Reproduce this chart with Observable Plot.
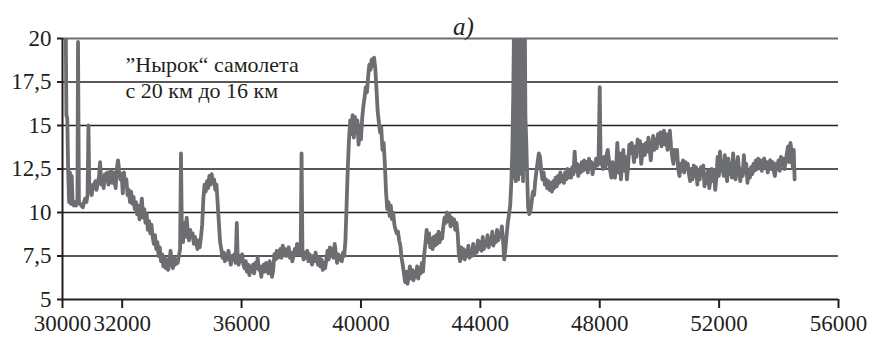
<!DOCTYPE html>
<html>
<head>
<meta charset="utf-8">
<script src="https://cdn.jsdelivr.net/npm/d3@7"></script>
<script src="https://cdn.jsdelivr.net/npm/@observablehq/plot@0.6"></script>
<style>
  html, body { margin: 0; padding: 0; background: #fff; }
  #chart { width: 878px; height: 341px; }
</style>
</head>
<body>
<div id="chart"></div>
<script>
// ---- data ----
const xTicks = [30000, 32000, 36000, 40000, 44000, 48000, 52000, 56000];
const yTicks = [5, 7.5, 10, 12.5, 15, 17.5, 20];
const title = "a)";
const annotation = "\u201DНырок\u201C самолета\nс 20 км до 16 км";

const xs = [
30080,30110,30130,30160,30190,30220,30250,30280,30310,30340,30380,30420,30460,30500,30520,30550,30590,30630,30680,30720,
30760,30800,30840,30870,30900,30940,30980,31020,31060,31100,31140,31180,31220,31260,31300,31340,31380,31420,31460,31500,
31540,31580,31620,31660,31700,31740,31780,31820,31860,31900,31940,31980,32020,32060,32100,32140,32180,32220,32260,32300,
32340,32380,32420,32460,32500,32540,32580,32620,32660,32700,32740,32780,32820,32860,32900,32940,32980,33020,33060,33100,
33140,33180,33220,33260,33300,33340,33380,33420,33460,33500,33540,33580,33620,33660,33700,33740,33780,33820,33860,33900,
33940,33970,34000,34040,34080,34120,34160,34200,34240,34280,34320,34360,34400,34440,34480,34520,34560,34600,34640,34680,
34720,34760,34800,34840,34880,34920,34960,35000,35040,35080,35120,35160,35200,35240,35280,35320,35360,35400,35440,35480,
35520,35560,35600,35640,35680,35720,35760,35800,35840,35870,35900,35940,35980,36020,36060,36100,36140,36180,36220,36260,
36300,36340,36380,36420,36460,36500,36540,36580,36620,36660,36700,36740,36780,36820,36860,36900,36940,36980,37020,37060,
37100,37140,37180,37220,37260,37300,37340,37380,37420,37460,37500,37540,37580,37620,37660,37700,37740,37780,37820,37860,
37900,37940,37980,38010,38040,38080,38120,38160,38200,38240,38280,38320,38360,38400,38440,38480,38520,38560,38600,38640,
38680,38720,38760,38800,38840,38880,38920,38960,39000,39040,39080,39120,39160,39200,39240,39280,39320,39360,39400,39440,
39480,39520,39560,39600,39640,39680,39720,39760,39800,39840,39880,39920,39960,40000,40040,40080,40120,40160,40200,40240,
40280,40320,40360,40400,40440,40480,40520,40560,40600,40640,40680,40720,40760,40800,40840,40880,40920,40960,41000,41040,
41080,41120,41160,41200,41240,41280,41320,41360,41400,41440,41480,41520,41560,41600,41640,41680,41720,41760,41800,41840,
41880,41920,41960,42000,42040,42080,42120,42160,42200,42240,42280,42320,42360,42400,42440,42480,42520,42560,42600,42640,
42680,42720,42760,42800,42840,42880,42920,42960,43000,43040,43080,43120,43160,43200,43240,43280,43320,43360,43400,43440,
43480,43520,43560,43600,43640,43680,43720,43760,43800,43840,43880,43920,43960,44000,44040,44080,44120,44160,44200,44240,
44280,44320,44360,44400,44440,44480,44520,44560,44600,44640,44680,44720,44760,44800,44840,44880,44920,44960,45000,45040,
45070,45100,45130,45150,45170,45190,45210,45230,45250,45270,45290,45310,45330,45350,45370,45390,45410,45430,45450,45470,
45490,45510,45540,45570,45600,45640,45680,45720,45760,45800,45840,45880,45920,45960,46000,46040,46080,46120,46160,46200,
46240,46280,46320,46360,46400,46440,46480,46520,46560,46600,46640,46680,46720,46760,46800,46840,46880,46920,46960,47000,
47040,47080,47120,47160,47200,47240,47280,47320,47360,47400,47440,47480,47520,47560,47600,47640,47680,47720,47760,47800,
47840,47880,47920,47960,48000,48030,48070,48110,48150,48190,48230,48270,48310,48350,48390,48430,48470,48510,48550,48590,
48630,48670,48710,48750,48790,48830,48870,48910,48950,48990,49030,49070,49110,49150,49190,49230,49270,49310,49350,49390,
49430,49470,49510,49550,49590,49630,49670,49710,49750,49790,49830,49870,49910,49950,49990,50030,50070,50110,50150,50190,
50230,50270,50310,50350,50390,50430,50470,50510,50550,50590,50630,50670,50710,50750,50790,50830,50870,50910,50950,50990,
51030,51070,51110,51150,51190,51230,51270,51310,51350,51390,51430,51470,51510,51550,51590,51630,51670,51710,51750,51790,
51830,51870,51910,51950,51990,52030,52070,52110,52150,52190,52230,52270,52310,52350,52390,52430,52470,52510,52550,52590,
52630,52670,52710,52750,52790,52830,52870,52910,52950,52990,53030,53070,53110,53150,53190,53230,53270,53310,53350,53390,
53430,53470,53510,53550,53590,53630,53670,53710,53750,53790,53830,53870,53910,53950,53990,54030,54070,54110,54150,54190,
54230,54270,54310,54350,54390,54430,54470,54500,54530
];

const ys = [
21,20.5,15.6,15.4,12.4,10.6,12.3,10.5,12.1,10.5,10.4,10.6,10.4,10.6,19.8,10.6,10.5,10.4,10.3,10.6,
10.8,10.6,11.0,15.0,11.2,11.4,11.0,11.6,11.5,11.8,11.3,11.7,12.0,12.9,11.6,12.0,11.4,12.2,11.8,12.3,
11.6,12.1,12.4,11.7,12.3,12.0,11.4,12.5,13.0,12.4,11.9,12.2,11.1,12.3,11.6,11.9,11.0,11.3,10.6,11.2,
10.5,10.9,10.2,10.6,9.9,10.4,9.6,10.2,10.8,9.7,10.2,9.4,9.9,9.0,9.5,8.8,9.3,8.6,8.2,8.7,
7.9,8.3,7.5,8.0,7.2,7.6,6.9,7.4,6.8,7.3,6.7,7.1,7.8,7.2,6.8,7.4,7.0,7.3,7.1,7.5,
7.9,13.4,8.8,8.3,9.4,8.6,9.7,8.8,8.4,9.0,8.6,8.8,8.2,8.6,8.3,7.9,8.4,8.0,8.6,9.3,
10.8,11.6,11.2,11.8,11.4,12.1,11.6,12.2,11.7,11.9,11.3,11.6,10.5,9.4,8.3,7.9,7.4,7.7,7.2,7.6,
7.3,7.8,7.4,7.0,7.5,7.3,7.6,7.1,9.4,7.4,7.0,7.5,7.2,7.6,7.0,6.8,7.2,6.6,7.0,6.4,
6.9,6.6,7.0,6.5,7.1,6.8,7.4,6.7,6.9,6.3,6.8,7.0,6.6,7.1,6.9,6.5,7.2,6.8,6.3,6.7,
7.6,7.3,7.8,7.4,7.7,7.9,7.4,8.1,7.6,7.9,7.5,7.8,8.0,7.4,7.7,7.2,7.5,7.9,7.6,8.2,
7.8,7.6,7.8,13.4,7.6,7.3,7.7,7.4,7.8,7.2,7.6,7.4,7.0,7.5,7.2,7.7,7.3,7.0,7.4,6.9,
7.3,6.7,7.1,6.8,7.3,7.8,7.3,8.0,7.5,7.9,7.4,8.2,7.6,7.1,7.6,7.3,7.5,7.2,7.7,7.5,
8.4,10.5,12.6,14.2,15.3,14.5,15.6,14.3,15.5,14.6,15.3,13.9,15.0,14.2,15.4,16.1,16.6,17.2,16.9,17.8,
18.5,18.2,18.8,18.4,18.9,18.3,17.1,15.8,15.2,14.6,14.9,13.6,14.0,12.8,11.2,10.2,10.6,9.8,10.4,9.6,
10.0,9.3,9.0,8.8,8.9,8.4,8.1,7.4,7.0,6.5,6.0,6.6,5.9,6.4,6.9,6.2,6.7,6.1,6.6,6.3,
6.9,6.2,6.8,6.5,7.1,6.6,7.6,8.2,9.0,8.3,8.8,8.0,8.5,7.9,8.6,8.1,8.7,8.2,8.9,8.3,
8.8,8.5,9.2,9.7,9.4,10.0,9.5,9.9,9.2,9.7,9.3,9.6,9.0,9.4,8.8,7.6,7.2,8.0,7.4,7.9,
7.3,7.8,7.5,8.1,7.4,7.8,7.5,8.2,7.6,8.0,7.7,8.4,7.9,8.3,7.8,8.6,7.9,8.3,8.1,8.7,
8.0,8.5,8.2,8.9,8.1,8.6,8.3,9.0,8.4,8.8,8.6,9.2,8.4,7.3,7.9,8.7,9.4,9.9,10.4,11.8,
13.5,16.5,21,12.0,21,11.8,21,12.1,21,11.9,21,15.4,21,15.6,21,12.2,21,11.8,21,12.5,
21,15.5,14.0,12.0,10.3,9.9,10.1,10.6,11.2,11.0,11.8,12.4,12.9,13.4,13.2,12.4,11.9,12.3,11.6,11.9,
11.4,11.8,11.3,11.7,11.2,11.8,11.4,12.0,11.5,12.1,11.7,12.3,11.8,12.1,11.7,12.3,11.9,12.5,12.0,12.4,
12.0,12.6,12.2,13.5,12.4,12.8,12.1,12.7,12.3,12.9,12.4,13.0,12.5,12.9,12.3,13.1,12.6,12.9,12.2,12.8,
12.6,13.1,12.7,12.9,17.2,12.8,12.9,12.5,13.2,12.6,13.3,13.6,13.0,12.4,12.0,12.9,12.2,12.0,12.6,14.0,
12.3,13.4,11.9,12.8,13.6,12.4,13.2,11.9,12.6,13.9,13.4,14.0,13.5,12.9,13.8,13.2,14.2,13.6,14.1,12.8,
13.4,13.9,13.3,14.0,13.5,14.3,13.7,13.0,13.8,14.4,13.6,14.2,13.7,14.5,14.0,14.6,13.8,14.4,14.7,13.9,
14.5,13.6,14.2,14.7,13.8,13.2,12.8,13.6,13.2,13.6,12.5,12.1,12.8,12.4,13.0,12.3,12.9,12.5,12.8,12.2,
11.8,12.5,11.9,12.7,12.1,12.6,11.6,12.4,11.9,12.6,12.2,12.7,11.5,12.2,11.7,12.4,11.4,11.9,12.5,11.8,
12.4,11.3,12.0,13.2,12.1,13.5,12.4,12.9,12.1,13.3,12.3,11.8,13.1,12.2,12.8,12.0,13.4,12.2,11.9,12.6,
13.2,12.4,11.8,12.5,12.1,13.3,12.3,12.8,11.7,12.4,12.0,12.6,12.2,12.8,12.4,13.0,12.5,13.1,12.6,13.0,
12.4,12.9,13.1,12.6,12.9,12.3,12.8,13.0,12.5,12.9,12.4,12.1,12.8,12.5,13.0,12.4,13.2,12.7,13.1,12.5,
12.9,13.4,13.8,12.9,14.0,13.5,12.6,13.6,11.9
];

const data = xs.map((x, i) => ({x, y: ys[i]}));

const fmtY = d => String(d).replace(".", ",");
const serif = "Liberation Serif";

const chart = Plot.plot({
  width: 878,
  height: 341,
  marginLeft: 62,
  marginRight: 40,
  marginTop: 38,
  marginBottom: 42,
  style: {fontFamily: serif, fontSize: "23px", color: "#231f20", background: "#fff"},
  x: {domain: [30000, 56000], label: null},
  y: {domain: [5, 20], label: null},
  marks: [
    Plot.ruleY(yTicks.filter(d => d !== 5 && d !== 20), {stroke: "#231f20", strokeWidth: 1.3}),
    Plot.ruleY([20], {stroke: "#6d6e71", strokeWidth: 2}),
    Plot.line(data, {x: "x", y: "y", stroke: "#6d6e71", strokeWidth: 3.8, strokeLinejoin: "round", clip: true}),
    Plot.ruleX([30000], {stroke: "#231f20", strokeWidth: 2}),
    Plot.ruleY([5], {stroke: "#231f20", strokeWidth: 2}),
    Plot.axisX({ticks: xTicks, tickFormat: d3.format("d"), tickSize: 9, tickPadding: 6, stroke: "#231f20", strokeWidth: 2, fontSize: 23, fontFamily: serif, label: null}),
    Plot.axisY({ticks: yTicks, tickFormat: fmtY, tickSize: 5, tickPadding: 6, stroke: "#231f20", strokeWidth: 2, fontSize: 23, fontFamily: serif, label: null}),
    Plot.text([title], {frameAnchor: "top", dx: 13, dy: -21, fontStyle: "italic", fontSize: 25, fontFamily: serif, fill: "#231f20", text: d => d}),
    Plot.text([annotation], {frameAnchor: "top-left", dx: 63, dy: 16, textAnchor: "start", lineAnchor: "top", lineHeight: 1.15, fontSize: 22, fontFamily: serif, fill: "#231f20", text: d => d})
  ]
});
chart.style.setProperty("font-family", "'Liberation Serif'", "important");
chart.querySelectorAll("g, text, tspan").forEach(el => {
  if (el.hasAttribute("font-family")) el.setAttribute("font-family", serif);
  el.style.setProperty("font-family", "'Liberation Serif'", "important");
});
document.getElementById("chart").appendChild(chart);
</script>
</body>
</html>
